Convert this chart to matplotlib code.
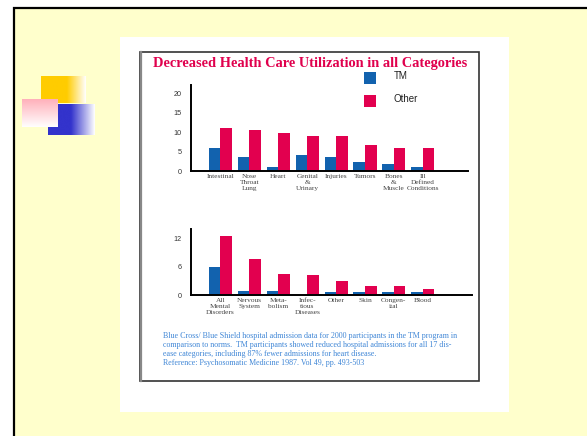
import numpy as np
import matplotlib
matplotlib.use("Agg")
import matplotlib.pyplot as plt
from matplotlib.patches import Rectangle

# ---------------- data ----------------
top_categories = ["Intestinal", "Nose\nThroat\nLung", "Heart", "Genital\n&\nUrinary",
                  "Injuries", "Tumors", "Bones\n&\nMuscle", "Ill\nDefined\nConditions"]
top_tm = [6.0, 3.7, 1.1, 4.2, 3.7, 2.4, 1.9, 1.1]
top_other = [11.1, 10.6, 9.8, 9.05, 9.05, 6.7, 6.0, 6.0]
top_yticks = [0, 5, 10, 15, 20]

bot_categories = ["All\nMental\nDisorders", "Nervous\nSystem", "Meta-\nbolism",
                  "Infec-\ntious\nDiseases", "Other", "Skin", "Congen-\nital", "Blood"]
bot_tm = [6.0, 0.85, 0.85, 0.0, 0.65, 0.65, 0.65, 0.65]
bot_other = [12.7, 7.7, 4.6, 4.35, 3.0, 1.95, 1.95, 1.3]
bot_yticks = [0, 6, 12]

series_names = ["TM", "Other"]
title = "Decreased Health Care Utilization in all Categories"
footnote = ("Blue Cross/ Blue Shield hospital admission data for 2000 participants in the TM program in\n"
            "comparison to norms.  TM participants showed reduced hospital admissions for all 17 dis-\n"
            "ease categories, including 87% fewer admissions for heart disease.\n"
            "Reference: Psychosomatic Medicine 1987. Vol 49, pp. 493-503")

# ---------------- style ----------------
W, H = 587, 436
BLUE = "#1262AE"
PINK = "#E2004F"
TITLE_C = "#E0004D"
FOOT_C = "#3F86D6"
SERIF = ["Liberation Serif", "DejaVu Serif"]
SANS = ["Liberation Sans", "DejaVu Sans"]

fig = plt.figure(figsize=(W / 100, H / 100), dpi=100)
fig.patch.set_facecolor("white")

# background / decoration axes in pixel coordinates
bg = fig.add_axes([0, 0, 1, 1], zorder=0)
bg.set_axis_off()

# slide border and yellow fill
bg.add_patch(Rectangle((14, 8), W + 10, H + 10, facecolor="#FFFFCC", edgecolor="black", lw=1.6))
# white panel
bg.add_patch(Rectangle((120, 37), 389, 375, facecolor="white", edgecolor="none"))
# chart frame
bg.add_patch(Rectangle((140, 52), 339, 329, facecolor="none", edgecolor="#333333", lw=1.2))
bg.plot([140.5, 140.5], [52, 381], color="#888888", lw=1.6)


def hgrad(x0, x1, y0, y1, color, solid_until):
    n = 200
    xs = np.linspace(x0, x1, n)
    t = np.clip((xs - solid_until) / (x1 - solid_until), 0, 1)
    c = np.array(color) / 255.0
    img = c[None, :] * (1 - t[:, None]) + t[:, None]
    img = img[None, :, :]
    bg.imshow(img, extent=(x0, x1, y1, y0), aspect="auto", interpolation="bilinear", zorder=2)


def vgrad(x0, x1, y0, y1, color):
    n = 200
    t = np.linspace(0, 1, n)
    c = np.array(color) / 255.0
    img = c[None, :] * (1 - t[:, None]) + t[:, None]
    img = img[:, None, :]
    bg.imshow(img, extent=(x0, x1, y1, y0), aspect="auto", interpolation="bilinear", zorder=3)


hgrad(41, 86, 77, 103, (255, 204, 0), 67)
hgrad(48, 95, 104, 135, (51, 51, 204), 71)
vgrad(22, 58, 99, 127, (255, 176, 186))

bg.set_xlim(0, W)
bg.set_ylim(H, 0)

# title
bg.text(310, 63, title, ha="center", va="center", color=TITLE_C,
        fontfamily=SERIF, fontweight="bold", fontsize=10.35)

# legend
bg.add_patch(Rectangle((364, 72), 12, 12, facecolor=BLUE, edgecolor="none"))
bg.add_patch(Rectangle((364, 95), 12, 12, facecolor=PINK, edgecolor="none"))
bg.text(394, 76, series_names[0], ha="left", va="center", fontfamily=SANS, fontsize=7.0, color="#222222")
bg.text(394, 99, series_names[1], ha="left", va="center", fontfamily=SANS, fontsize=7.0, color="#222222")

# footnote
bg.text(163, 332, footnote, ha="left", va="top", color=FOOT_C, fontfamily=SERIF,
        fontsize=5.8, linespacing=1.15)


def bar_axes(x0, x1, ytop, ybot, px_per_unit, cats, tm, other, yticks):
    ax = fig.add_axes([x0 / W, (H - ybot) / H, (x1 - x0) / W, (ybot - ytop) / H], zorder=1)
    ax.patch.set_alpha(0)
    idx = np.arange(len(cats))
    ax.bar(idx - 0.2, tm, width=0.4, color=BLUE, label=series_names[0])
    ax.bar(idx + 0.2, other, width=0.4, color=PINK, label=series_names[1])
    spacing = 28.9
    c0 = 220.5
    ax.set_xlim((x0 - c0) / spacing, (x1 - c0) / spacing)
    ax.set_ylim(0, (ybot - ytop) / px_per_unit)
    ax.set_xticks(idx)
    ax.set_xticklabels(cats, fontfamily=SERIF, fontsize=5.3, color="#444444", linespacing=1.2)
    ax.set_yticks(yticks)
    ax.set_yticklabels([str(v) for v in yticks], fontfamily=SANS, fontsize=5.2, color="#333333")
    ax.tick_params(axis="x", length=0, pad=2.5)
    ax.tick_params(axis="y", length=0, pad=6.5)
    for s in ["top", "right"]:
        ax.spines[s].set_visible(False)
    for s in ["left", "bottom"]:
        ax.spines[s].set_linewidth(1.4)
        ax.spines[s].set_color("black")
    return ax


bar_axes(191, 468, 85, 171, 3.9, top_categories, top_tm, top_other, top_yticks)
bar_axes(191, 472, 229, 295, 4.67, bot_categories, bot_tm, bot_other, bot_yticks)

fig.savefig("out.png", dpi=100)
